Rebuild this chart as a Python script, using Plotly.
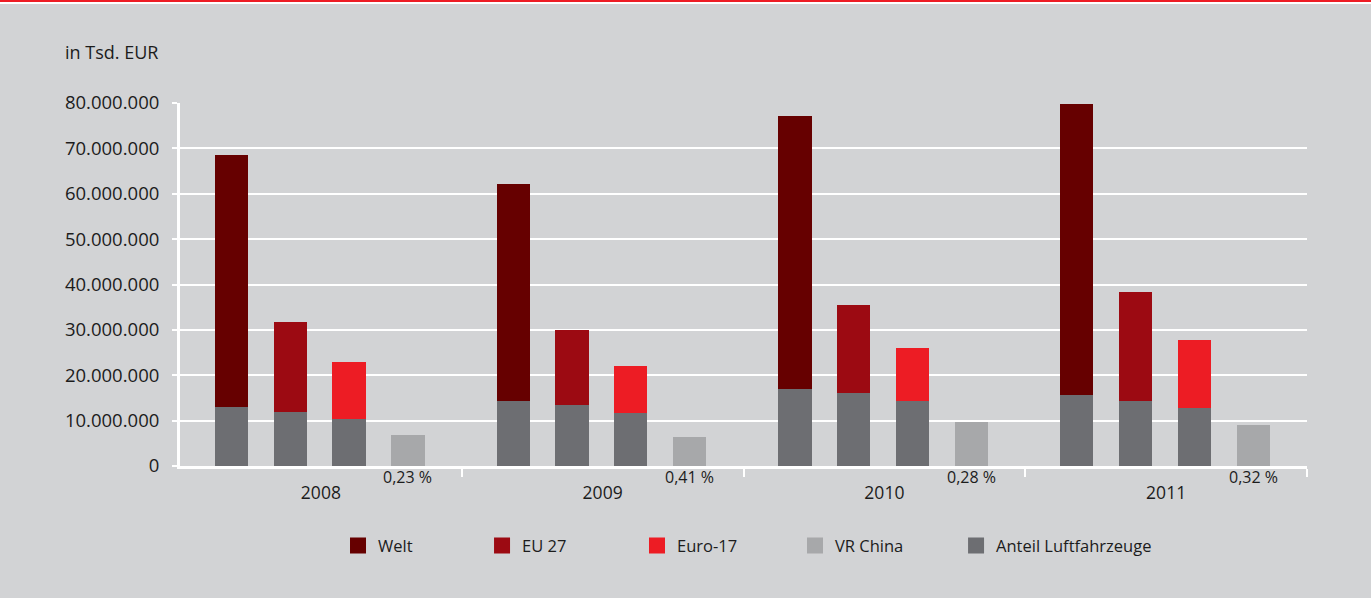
import plotly.graph_objects as go

# ---- data (values in Tsd. EUR) ----
years = ["2008", "2009", "2010", "2011"]
welt = [68_600_000, 62_200_000, 77_200_000, 79_850_000]
eu27 = [31_700_000, 29_900_000, 35_450_000, 38_300_000]
euro17 = [22_900_000, 22_000_000, 25_950_000, 27_700_000]
vr_china = [6_750_000, 6_300_000, 9_600_000, 8_950_000]
# aircraft share of Welt / EU 27 / Euro-17
anteil_welt = [12_900_000, 14_250_000, 16_900_000, 15_600_000]
anteil_eu27 = [11_800_000, 13_350_000, 16_000_000, 14_250_000]
anteil_euro17 = [10_300_000, 11_600_000, 14_250_000, 12_700_000]
china_pct = ["0,23 %", "0,41 %", "0,28 %", "0,32 %"]

series_names = ["Welt", "EU 27", "Euro-17", "VR China", "Anteil Luftfahrzeuge"]
colors = {
    "Welt": "#660000",
    "EU 27": "#9c0a12",
    "Euro-17": "#ed1c24",
    "VR China": "#a7a8aa",
    "Anteil Luftfahrzeuge": "#6d6e72",
}

BG = "#d2d3d5"
TXT = "#1c1c1c"
FONT = "Open Sans"

# layout of bars inside each year group (group width = 1)
offsets = [-0.3176, -0.1087, 0.0995, 0.3089]
bar_w = 0.118
centers = [i + 0.5 for i in range(len(years))]
legend_x = [0.1402, 0.268, 0.4055, 0.5457, 0.6886]


def xs(k):
    return [c + offsets[k] for c in centers]


fig = go.Figure()

totals = [welt, eu27, euro17, vr_china]
for k, (name, vals) in enumerate(zip(series_names[:4], totals)):
    fig.add_trace(go.Bar(
        x=xs(k), y=vals, width=bar_w, name=name,
        marker=dict(color=colors[name], line=dict(width=0)),
        showlegend=False, hoverinfo="name+y",
    ))

# aircraft share drawn over the lower part of the first three bars
air_x, air_y = [], []
for k, vals in enumerate([anteil_welt, anteil_eu27, anteil_euro17]):
    air_x += xs(k)
    air_y += vals
fig.add_trace(go.Bar(
    x=air_x, y=air_y, width=bar_w, name="Anteil Luftfahrzeuge",
    marker=dict(color=colors["Anteil Luftfahrzeuge"], line=dict(width=0)),
    showlegend=False, hoverinfo="name+y",
))

# legend entries, one legend box each so they can be spaced like the original
legend_layouts = {}
for i, name in enumerate(series_names):
    lid = "legend" if i == 0 else f"legend{i + 1}"
    fig.add_trace(go.Scatter(
        x=[None], y=[None], mode="markers", name=name, legend=lid,
        marker=dict(symbol="square", size=16, color=colors[name], line=dict(width=0)),
        showlegend=True,
    ))
    legend_layouts[lid] = dict(
        orientation="h", x=legend_x[i], xanchor="left", y=-0.22, yanchor="middle",
        bgcolor="rgba(0,0,0,0)", font=dict(family=FONT, size=16.5, color=TXT),
        itemclick=False, itemdoubleclick=False,
    )

annotations = [
    dict(text="in Tsd. EUR", xref="paper", yref="paper", x=-0.104, y=1.1405,
         xanchor="left", yanchor="middle", showarrow=False,
         font=dict(family=FONT, size=18, color=TXT)),
]
for c, t in zip(xs(3), china_pct):
    annotations.append(dict(
        text=t, x=c, y=0, xref="x", yref="y", xanchor="center", yanchor="middle",
        yshift=-11, showarrow=False, font=dict(family=FONT, size=16, color=TXT)))

fig.update_layout(
    width=1371, height=598,
    margin=dict(l=180, r=64, t=103, b=132),
    paper_bgcolor=BG, plot_bgcolor=BG,
    barmode="overlay", bargap=0,
    separators=",.",
    font=dict(family=FONT, color=TXT),
    annotations=annotations,
    shapes=[
        dict(type="rect", xref="paper", yref="paper", x0=-0.2, x1=1.1,
             ysizemode="pixel", yanchor=1, y0=101, y1=104,
             fillcolor="#ed1c24", line=dict(width=0), layer="above"),
        dict(type="rect", xref="paper", yref="paper", x0=-0.2, x1=1.1,
             ysizemode="pixel", yanchor=1, y0=99, y1=101,
             fillcolor="#ffffff", line=dict(width=0), layer="above"),
    ],
    xaxis=dict(
        range=[0, 4], tickvals=centers, ticktext=years, ticks="",
        showgrid=False, zeroline=False, showline=True, linecolor="white", linewidth=3,
        tickfont=dict(family=FONT, size=17.5, color=TXT), ticklabelstandoff=9,
        minor=dict(tickvals=[1, 2, 3, 4], ticks="outside", ticklen=8,
                   tickcolor="white", tickwidth=1.5, showgrid=False),
        fixedrange=True,
    ),
    yaxis=dict(
        range=[0, 80_000_000], dtick=10_000_000, tickformat=",d",
        showgrid=True, gridcolor="white", gridwidth=2, zeroline=False,
        showline=True, linecolor="white", linewidth=3,
        ticks="outside", ticklen=5, tickcolor="white", tickwidth=2,
        tickfont=dict(family=FONT, size=18.5, color=TXT), ticklabelstandoff=9,
        fixedrange=True,
    ),
    **legend_layouts,
)

fig.write_html(
    "out.html",
    config={"displayModeBar": False},
    post_script="document.body.style.margin='0';document.body.style.overflow='hidden';",
)
